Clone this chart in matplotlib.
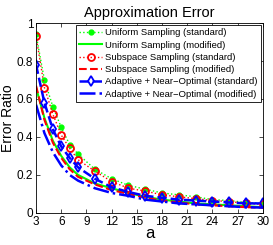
import matplotlib
matplotlib.use("Agg")
import matplotlib.pyplot as plt
from matplotlib.ticker import FuncFormatter

plt.rcParams["font.family"] = ["Liberation Sans", "DejaVu Sans"]

a = [3, 4, 5, 6, 7, 8, 10, 12, 14, 16, 18, 20, 22, 24, 26, 28, 30]

uni_std = [0.94, 0.70, 0.56, 0.45, 0.36, 0.31, 0.23, 0.18, 0.145, 0.125,
           0.105, 0.095, 0.085, 0.07, 0.065, 0.055, 0.05]
uni_mod = [0.66, 0.50, 0.38, 0.30, 0.24, 0.20, 0.155, 0.13, 0.105, 0.085,
           0.07, 0.06, 0.05, 0.045, 0.04, 0.035, 0.03]
sub_std = [0.93, 0.66, 0.52, 0.41, 0.34, 0.28, 0.22, 0.165, 0.13, 0.115,
           0.095, 0.085, 0.075, 0.065, 0.06, 0.05, 0.045]
sub_mod = [0.67, 0.49, 0.37, 0.29, 0.23, 0.19, 0.15, 0.12, 0.10, 0.08,
           0.065, 0.055, 0.045, 0.04, 0.035, 0.03, 0.028]
ada_std = [0.78, 0.58, 0.44, 0.35, 0.29, 0.24, 0.18, 0.135, 0.11, 0.09,
           0.08, 0.07, 0.065, 0.06, 0.055, 0.05, 0.05]
ada_mod = [0.57, 0.42, 0.32, 0.25, 0.20, 0.17, 0.13, 0.105, 0.09, 0.07,
           0.06, 0.05, 0.045, 0.04, 0.035, 0.03, 0.028]

labels = ["Uniform Sampling (standard)", "Uniform Sampling (modified)",
          "Subspace Sampling (standard)", "Subspace Sampling (modified)",
          "Adaptive + Near\u2212Optimal (standard)",
          "Adaptive + Near\u2212Optimal (modified)"]

fig = plt.figure(figsize=(2.73, 2.45), dpi=100)
ax = fig.add_axes([0.132, 0.131, 0.831, 0.775])

ax.plot(a, uni_std, color="#00ff00", ls=":", lw=1.0, marker="o", ms=3.5,
        mfc="#00ff00", mec="#00ff00", label=labels[0])
ax.plot(a, uni_mod, color="#00ff00", ls="-", lw=1.5, label=labels[1])
ax.plot(a, sub_std, color="#ff0000", ls=":", lw=1.0, marker="o", ms=5,
        mfc="none", mec="#ff0000", mew=1.3, label=labels[2])
ax.plot(a, sub_mod, color="#ff0000", ls="--", lw=1.5, label=labels[3])
ax.plot(a, ada_std, color="#0000ff", ls="--", lw=1.8, marker="d", ms=5,
        mfc="none", mec="#0000ff", mew=1.3, label=labels[4])
ax.plot(a, ada_mod, color="#0000ff", ls="-.", lw=1.8, label=labels[5])

ax.set_xlim(3, 30)
ax.set_ylim(0, 1)
ax.set_xticks(range(3, 31, 3))
ax.set_yticks([0, 0.2, 0.4, 0.6, 0.8, 1])
ax.yaxis.set_major_formatter(FuncFormatter(lambda v, p: f"{v:g}"))
ax.tick_params(direction="in", top=True, right=True, labelsize=8.5,
               length=3, width=0.5, pad=2)
for s in ax.spines.values():
    s.set_linewidth(0.6)

ax.set_title("Approximation Error", fontsize=10.5, pad=4)
ax.set_xlabel("a", fontsize=12, labelpad=-1)
ax.set_ylabel("Error Ratio", fontsize=10, labelpad=1)

leg = ax.legend(loc="upper right", fontsize=6.8, handlelength=2.5,
                handletextpad=0.3, borderpad=0.3, labelspacing=0.35,
                fancybox=False, framealpha=1, edgecolor="black",
                borderaxespad=0.25)
leg.get_frame().set_linewidth(0.6)

fig.savefig("out.png", dpi=100)
